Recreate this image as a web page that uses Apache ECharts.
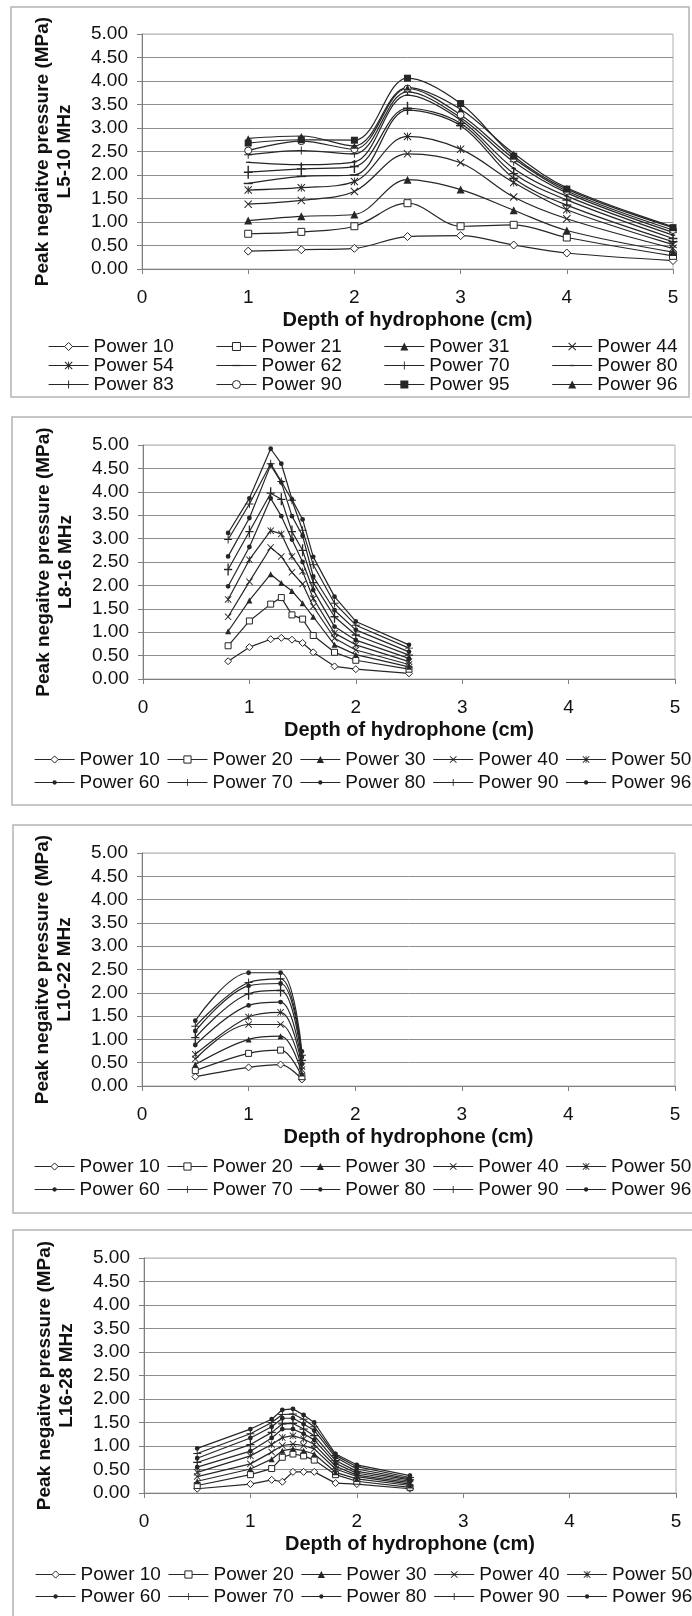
<!DOCTYPE html>
<html>
<head>
<meta charset="utf-8">
<script src="https://cdn.jsdelivr.net/npm/echarts@6/dist/echarts.min.js"></script>
<style>
  html, body { margin: 0; padding: 0; background: #ffffff; }
  #chart { width: 692px; height: 1616px; }
</style>
</head>
<body>
<div id="chart"></div>
<script>
// ---- Measured peak negative pressure (MPa) against hydrophone depth (cm) ----

// L5-10 MHz probe
const depthL5 = [1, 1.5, 2, 2.5, 3, 3.5, 4, 5];
const powersL5 = [10, 21, 31, 44, 54, 62, 70, 80, 83, 90, 95, 96];
const pressureL5 = [
  [0.38, 0.41, 0.44, 0.69, 0.71, 0.51, 0.34, 0.18],
  [0.75, 0.79, 0.91, 1.40, 0.91, 0.94, 0.67, 0.28],
  [1.03, 1.12, 1.16, 1.90, 1.69, 1.25, 0.82, 0.36],
  [1.38, 1.46, 1.65, 2.45, 2.26, 1.53, 1.07, 0.44],
  [1.68, 1.73, 1.86, 2.82, 2.55, 1.84, 1.26, 0.52],
  [1.82, 1.97, 2.00, 3.38, 3.05, 1.93, 1.36, 0.58],
  [2.06, 2.13, 2.18, 3.42, 3.10, 2.03, 1.47, 0.65],
  [2.27, 2.22, 2.28, 3.70, 3.17, 2.14, 1.55, 0.72],
  [2.43, 2.52, 2.45, 3.77, 3.22, 2.28, 1.62, 0.78],
  [2.52, 2.72, 2.55, 3.84, 3.28, 2.35, 1.66, 0.83],
  [2.68, 2.75, 2.74, 4.06, 3.52, 2.40, 1.70, 0.88],
  [2.78, 2.83, 2.62, 3.86, 3.40, 2.46, 1.73, 0.90]
];

// L8-16 MHz probe
const depthL8 = [0.8, 1.0, 1.2, 1.3, 1.4, 1.5, 1.6, 1.8, 2.0, 2.5];
const powersL8 = [10, 20, 30, 40, 50, 60, 70, 80, 90, 96];
const pressureL8 = [
  [0.38, 0.68, 0.85, 0.88, 0.84, 0.77, 0.57, 0.27, 0.21, 0.12],
  [0.71, 1.24, 1.60, 1.74, 1.37, 1.28, 0.93, 0.57, 0.40, 0.21],
  [1.02, 1.68, 2.24, 2.05, 1.88, 1.62, 1.33, 0.73, 0.52, 0.26],
  [1.33, 2.08, 2.81, 2.62, 2.28, 2.03, 1.55, 0.87, 0.62, 0.31],
  [1.70, 2.55, 3.17, 3.10, 2.62, 2.30, 1.72, 0.98, 0.73, 0.37],
  [1.98, 2.82, 3.86, 3.48, 2.98, 2.50, 1.90, 1.12, 0.83, 0.44],
  [2.34, 3.15, 3.97, 3.84, 3.15, 2.75, 2.06, 1.33, 0.94, 0.51],
  [2.62, 3.44, 4.57, 4.20, 3.48, 3.06, 2.19, 1.47, 1.05, 0.58],
  [2.98, 3.74, 4.60, 4.22, 3.82, 3.18, 2.44, 1.62, 1.15, 0.66],
  [3.12, 3.86, 4.92, 4.60, 3.84, 3.41, 2.61, 1.76, 1.23, 0.73]
];

// L10-22 MHz probe
const depthL10 = [0.5, 1.0, 1.3, 1.5];
const powersL10 = [10, 20, 30, 40, 50, 60, 70, 80, 90, 96];
const pressureL10 = [
  [0.20, 0.40, 0.46, 0.14],
  [0.33, 0.70, 0.77, 0.20],
  [0.46, 1.00, 1.07, 0.27],
  [0.58, 1.32, 1.32, 0.35],
  [0.68, 1.48, 1.58, 0.42],
  [0.88, 1.73, 1.80, 0.48],
  [1.04, 1.98, 2.05, 0.55],
  [1.18, 2.15, 2.20, 0.62],
  [1.28, 2.22, 2.30, 0.66],
  [1.40, 2.43, 2.43, 0.74]
];

// L16-28 MHz probe
const depthL16 = [0.5, 1.0, 1.2, 1.3, 1.4, 1.5, 1.6, 1.8, 2.0, 2.5];
const powersL16 = [10, 20, 30, 40, 50, 60, 70, 80, 90, 96];
const pressureL16 = [
  [0.09, 0.19, 0.28, 0.24, 0.45, 0.45, 0.45, 0.21, 0.19, 0.09],
  [0.16, 0.39, 0.52, 0.76, 0.83, 0.79, 0.70, 0.39, 0.25, 0.12],
  [0.25, 0.51, 0.72, 0.90, 0.94, 0.90, 0.83, 0.44, 0.30, 0.16],
  [0.35, 0.62, 0.87, 1.01, 1.04, 1.01, 0.94, 0.51, 0.35, 0.19],
  [0.44, 0.79, 1.03, 1.18, 1.22, 1.15, 1.03, 0.57, 0.38, 0.22],
  [0.55, 0.89, 1.17, 1.36, 1.36, 1.26, 1.13, 0.63, 0.42, 0.25],
  [0.65, 1.03, 1.29, 1.47, 1.48, 1.36, 1.22, 0.69, 0.46, 0.28],
  [0.74, 1.17, 1.41, 1.59, 1.59, 1.47, 1.33, 0.76, 0.51, 0.30],
  [0.84, 1.26, 1.50, 1.67, 1.68, 1.57, 1.41, 0.80, 0.56, 0.33],
  [0.95, 1.36, 1.57, 1.77, 1.79, 1.66, 1.50, 0.83, 0.60, 0.37]
];

const probeNames = ['L5-10 MHz', 'L8-16 MHz', 'L10-22 MHz', 'L16-28 MHz'];
const yAxisTitle = 'Peak negaitve pressure (MPa)';
const xAxisTitle = 'Depth of hydrophone (cm)';
const seriesPrefix = 'Power ';

// ---- Marker shapes ----
const FONT = '"Liberation Sans", Arial, Helvetica, sans-serif';
const INK = '#262626';
const P_X = 'path://M0,0.9L0.9,0L5,4.1L9.1,0L10,0.9L5.9,5L10,9.1L9.1,10L5,5.9L0.9,10L0,9.1L4.1,5Z';
const P_STAR = P_X + 'M4.45,0H5.55V10H4.45Z';
const P_PLUS = 'path://M4.4,0H5.6V4.4H10V5.6H5.6V10H4.4V5.6H0V4.4H4.4Z';
const P_TALLPLUS = 'path://M0,0M10,10M4.45,0H5.55V4.45H8.4V5.55H5.55V10H4.45V5.55H1.6V4.45H4.45Z';
const P_DASH = 'path://M0,0M10,10M0,4.2H10V5.8H0Z';
const P_SHORTDASH = 'path://M0,0M10,10M2.2,4.2H7.8V5.8H2.2Z';
const P_DOT = 'path://M0,0M10,10M5,2A3,3 0 1,1 4.99,2Z';

const m = (symbol, size, hollow) => ({ symbol, size, hollow: !!hollow });

const markersL5 = [
  m('diamond', 8, true), m('rect', 7, true), m('triangle', 8), m(P_X, 8),
  m(P_STAR, 8), m(P_DASH, 9), m(P_TALLPLUS, 13), m(P_SHORTDASH, 8),
  m(P_PLUS, 8), m('circle', 7, true), m('rect', 7), m('triangle', 6)
];
const markersOther = [
  m('diamond', 7, true), m('rect', 6, true), m('triangle', 6), m(P_X, 7),
  m(P_STAR, 7), m(P_DOT, 8), m(P_TALLPLUS, 12), m(P_DOT, 8),
  m(P_PLUS, 8), m(P_DOT, 8)
];

// ---- Panel layout (pixels) ----
const panels = [
  { depth: depthL5, powers: powersL5, values: pressureL5, markers: markersL5, smooth: 0.35,
    grid: { left: 142, top: 34, width: 531, height: 235 },
    frame: { x: 11, y: 7, width: 678, height: 390 },
    legendRows: 3, legendLeft: 48, legendTop: 337, legendRowStep: 19, legendGap: 42, legendIcon: 10 },
  { depth: depthL8, powers: powersL8, values: pressureL8, markers: markersOther, smooth: false,
    grid: { left: 143, top: 445, width: 532, height: 234 },
    frame: { x: 12, y: 417, width: 700, height: 388 },
    legendRows: 2, legendLeft: 34, legendTop: 750, legendRowStep: 23, legendGap: 7, legendIcon: 9 },
  { depth: depthL10, powers: powersL10, values: pressureL10, markers: markersOther, smooth: 0.35,
    grid: { left: 142, top: 853, width: 533, height: 233 },
    frame: { x: 13, y: 825, width: 700, height: 388 },
    legendRows: 2, legendLeft: 34, legendTop: 1157, legendRowStep: 23, legendGap: 7, legendIcon: 9 },
  { depth: depthL16, powers: powersL16, values: pressureL16, markers: markersOther, smooth: false,
    grid: { left: 144, top: 1258, width: 532, height: 235 },
    frame: { x: 13, y: 1230, width: 700, height: 420 },
    legendRows: 2, legendLeft: 35, legendTop: 1565, legendRowStep: 22, legendGap: 7, legendIcon: 9 }
];

const grids = [], xAxes = [], yAxes = [], series = [], legends = [], frames = [];

// Horizontal grid lines: the top one doubles as the plot-area border and is lighter
const splitColors = [];
for (let i = 0; i < 11; i++) splitColors.push(i === 10 ? '#c4c4c4' : '#8e8e8e');

const markerStyle = mk => mk.hollow
  ? { color: '#ffffff', borderColor: INK, borderWidth: 1 }
  : { color: INK, borderWidth: 0 };

panels.forEach((p, pi) => {
  grids.push(Object.assign({ show: true, borderColor: '#b0b0b0', borderWidth: 1, backgroundColor: 'transparent' }, p.grid));
  frames.push({
    type: 'rect', z: -10, silent: true,
    shape: Object.assign({}, p.frame),
    style: { fill: 'none', stroke: '#b4b4b4', lineWidth: 1.5 }
  });

  xAxes.push({
    gridIndex: pi, type: 'value', min: 0, max: 5, interval: 1,
    name: xAxisTitle, nameLocation: 'middle', nameGap: 41,
    nameTextStyle: { fontFamily: FONT, fontSize: 20, fontWeight: 'bold', color: '#111', lineHeight: 20 },
    axisLine: { show: true, onZero: false, lineStyle: { color: '#7f7f7f', width: 1 } },
    axisTick: { show: true, inside: false, length: 5, lineStyle: { color: '#7f7f7f' } },
    axisLabel: { margin: 19, fontFamily: FONT, fontSize: 19, color: '#111' },
    splitLine: { show: false }
  });

  yAxes.push({
    gridIndex: pi, type: 'value', min: 0, max: 5, interval: 0.5,
    name: yAxisTitle + '\n' + probeNames[pi], nameLocation: 'middle', nameRotate: 90, nameGap: 66,
    nameTextStyle: { fontFamily: FONT, fontSize: 19, fontWeight: 'bold', color: '#111', lineHeight: 22, align: 'center' },
    axisLine: { show: true, lineStyle: { color: '#7f7f7f', width: 1 } },
    axisTick: { show: true, inside: false, length: 5, lineStyle: { color: '#7f7f7f' } },
    axisLabel: { margin: 14, fontFamily: FONT, fontSize: 19, color: '#111', formatter: v => v.toFixed(2) },
    splitLine: { show: true, lineStyle: { color: splitColors, width: 1 } }
  });

  const names = [];
  p.powers.forEach((pw, si) => {
    const mk = p.markers[si];
    const name = probeNames[pi] + '|' + seriesPrefix + pw;
    names.push({ name, mk });
    series.push({
      type: 'line', name,
      xAxisIndex: pi, yAxisIndex: pi,
      data: p.depth.map((d, k) => [d, p.values[si][k]]),
      smooth: p.smooth,
      symbol: mk.symbol, symbolSize: mk.size, showSymbol: true, showAllSymbol: true,
      lineStyle: { color: INK, width: 1.2 },
      itemStyle: markerStyle(mk),
      emphasis: { disabled: true },
      animation: false
    });
  });

  const perRow = Math.ceil(names.length / p.legendRows);
  for (let r = 0; r < p.legendRows; r++) {
    legends.push({
      left: p.legendLeft, top: p.legendTop + r * p.legendRowStep, width: 760,
      orient: 'horizontal', padding: 0,
      itemWidth: 40, itemHeight: p.legendIcon, itemGap: p.legendGap,
      selectedMode: false,
      textStyle: { fontFamily: FONT, fontSize: 19, color: '#111' },
      formatter: n => n.split('|')[1],
      data: names.slice(r * perRow, (r + 1) * perRow).map(o => ({
        name: o.name,
        itemStyle: markerStyle(o.mk),
        lineStyle: { color: INK, width: 1.2 }
      }))
    });
  }
});

const chart = echarts.init(document.getElementById('chart'), null, { renderer: 'canvas' });
chart.setOption({
  backgroundColor: '#ffffff',
  animation: false,
  graphic: frames,
  grid: grids,
  xAxis: xAxes,
  yAxis: yAxes,
  legend: legends,
  series: series
});
</script>
</body>
</html>
